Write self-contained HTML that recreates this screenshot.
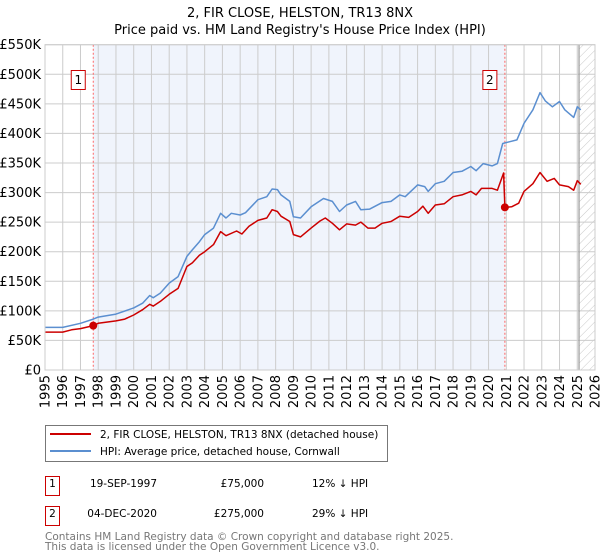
<!DOCTYPE html>
<html><head><meta charset="utf-8"><style>
body{margin:0;background:#fff;width:600px;height:560px;overflow:hidden;font-family:"DejaVu Sans","Liberation Sans",sans-serif}
svg{display:block}
</style></head><body>
<svg id="chart" width="600" height="560" viewBox="0 0 600 560" font-family="DejaVu Sans, Liberation Sans, sans-serif">
<defs>
<pattern id="hatch" patternUnits="userSpaceOnUse" width="6" height="6" patternTransform="rotate(45)">
<line x1="0" y1="0" x2="0" y2="6" stroke="#bbb" stroke-width="0.8"/>
</pattern>
</defs>
<text x="300" y="17" text-anchor="middle" font-size="13">2, FIR CLOSE, HELSTON, TR13 8NX</text>
<text x="300" y="34" text-anchor="middle" font-size="13">Price paid vs. HM Land Registry's House Price Index (HPI)</text>
<g id="plot"></g>
<g>
<rect x="45.5" y="425.5" width="342" height="36" fill="#fff" stroke="#777"/>
<line x1="50" y1="434" x2="91" y2="434" stroke="#cc0000" stroke-width="2"/>
<text x="100" y="438" font-size="10.5">2, FIR CLOSE, HELSTON, TR13 8NX (detached house)</text>
<line x1="50" y1="451" x2="91" y2="451" stroke="#5b8fd0" stroke-width="2"/>
<text x="100" y="455" font-size="10.5">HPI: Average price, detached house, Cornwall</text>
</g>
<g font-size="10.5">
<rect x="45.5" y="476.5" width="14" height="19" fill="#fff" stroke="#cc0000"/>
<text x="52.5" y="487" text-anchor="middle">1</text>
<text x="157" y="487" text-anchor="end">19-SEP-1997</text>
<text x="264" y="487" text-anchor="end">£75,000</text>
<text x="312" y="487">12% ↓ HPI</text>
<rect x="45.5" y="506.5" width="14" height="19" fill="#fff" stroke="#cc0000"/>
<text x="52.5" y="517" text-anchor="middle">2</text>
<text x="157" y="517" text-anchor="end">04-DEC-2020</text>
<text x="264" y="517" text-anchor="end">£275,000</text>
<text x="312" y="517">29% ↓ HPI</text>
</g>
<text x="45" y="540" font-size="10.5" fill="#777">Contains HM Land Registry data © Crown copyright and database right 2025.</text>
<text x="45" y="550" font-size="10.5" fill="#777">This data is licensed under the Open Government Licence v3.0.</text>
</svg>
<script>
const hpiYears=[1995,1996,1997,1997.72,1998,1999,2000,2000.5,2000.9,2001.1,2001.5,2002,2002.5,2003,2003.3,2003.7,2004,2004.5,2004.9,2005.2,2005.5,2006,2006.3,2007,2007.5,2007.8,2008.1,2008.3,2008.8,2009.0,2009.4,2010,2010.7,2011.2,2011.6,2012,2012.5,2012.8,2013.3,2014,2014.5,2015,2015.3,2016,2016.4,2016.6,2017,2017.5,2018,2018.5,2019,2019.3,2019.7,2020.2,2020.5,2020.8,2021.2,2021.6,2022,2022.5,2022.9,2023.2,2023.6,2024,2024.3,2024.8,2025.0,2025.2];
const hpiValues=[72,72,79,86,89.5,94.5,105,113,126,122,130,147,158,192,203,217,229,240,265,257,265,262,266,288,293,306,305,296,285,259,257,276,290,285,268,279,285,271,272,283,285,296,293,313,310,302,315,319,334,336,344,337,349,345,349,383,386,389,417,440,469,455,445,454,440,427,445,440];
const ppYears=[1995,1996,1996.5,1997,1997.72,1998,1999,1999.5,2000,2000.5,2000.9,2001.1,2001.5,2002,2002.5,2003,2003.3,2003.7,2004,2004.5,2004.9,2005.2,2005.8,2006.1,2006.5,2007,2007.5,2007.8,2008.1,2008.3,2008.8,2009.0,2009.4,2010,2010.5,2010.8,2011.2,2011.6,2012,2012.5,2012.8,2013.2,2013.6,2014,2014.5,2015,2015.5,2016,2016.3,2016.6,2017,2017.5,2018,2018.5,2019,2019.3,2019.6,2020.2,2020.5,2020.85,2020.92,2021.3,2021.7,2022,2022.5,2022.9,2023.3,2023.7,2024,2024.5,2024.8,2025.0,2025.2];
const ppValues=[64,64,68,70,75,79,83,86,93,102,111,108,116,128,138,175,181,194,200,212,234,227,235,230,243,253,257,271,268,260,251,229,225,240,252,257,248,237,247,245,250,240,240,248,251,260,258,268,277,265,279,281,293,296,302,296,307,307,304,333,275,276,282,302,315,334,319,324,313,310,304,320,314];
const saleYears=[1997.72,2020.92];
const saleValues=[75,275];
const saleLabels=["1","2"];
const yTicks=[0,50,100,150,200,250,300,350,400,450,500,550];
const xTickYears=[1995,1996,1997,1998,1999,2000,2001,2002,2003,2004,2005,2006,2007,2008,2009,2010,2011,2012,2013,2014,2015,2016,2017,2018,2019,2020,2021,2022,2023,2024,2025,2026];
const dataEndYear=2025.1;

const L=45,R=595,T=44.7,B=370;
const X=y=>L+(y-1995)/(2026-1995)*(R-L);
const Y=v=>B-v/550*(B-T);
const NS="http://www.w3.org/2000/svg";
const g=document.getElementById('plot');
function mk(tag,attrs,parent){const e=document.createElementNS(NS,tag);for(const k in attrs)e.setAttribute(k,attrs[k]);(parent||g).appendChild(e);return e;}

const bg=mk('rect',{x:L,y:T,width:R-L,height:B-T,fill:'#fff'});


const sh=mk('rect',{x:X(saleYears[0]),y:T,width:X(saleYears[1])-X(saleYears[0]),height:B-T,fill:'#f0f4fc'});


const ht=mk('rect',{x:X(dataEndYear),y:T,width:R-X(dataEndYear),height:B-T,fill:'url(#hatch)'});



yTicks.forEach(v=>{
  const ln=mk('line',{x1:L,x2:R,y1:Y(v),y2:Y(v),stroke:'#cccccc','stroke-width':1});
  
  
  const t=mk('text',{x:41,y:Y(v)+4.5,'text-anchor':'end','font-size':13});
  t.textContent=v===0?'£0':'£'+v+'K';
  
  
});
xTickYears.forEach(yr=>{
  const ln=mk('line',{x1:X(yr),x2:X(yr),y1:T,y2:B,stroke:'#cccccc','stroke-width':1});
  
  
  const t=mk('text',{x:0,y:0,'text-anchor':'end','font-size':13,transform:`translate(${X(yr)+4.5},${B+5}) rotate(-90)`});
  t.textContent=yr;
  
  
});
const el=mk('line',{x1:X(dataEndYear),x2:X(dataEndYear),y1:T,y2:B,stroke:'#999','stroke-width':1.2});



saleYears.forEach((yr,i)=>{
  const ln=mk('line',{x1:X(yr),x2:X(yr),y1:T,y2:B,stroke:'#ff6666','stroke-width':1,'stroke-dasharray':'2,2'});
  
  
});

const pts=(xs,vs)=>xs.map((x,i)=>X(x).toFixed(1)+','+Y(vs[i]).toFixed(1)).join(' ');
const hp=mk('polyline',{points:pts(hpiYears,hpiValues),fill:'none',stroke:'#5b8fd0','stroke-width':1.5,'stroke-linejoin':'round'});


const pp=mk('polyline',{points:pts(ppYears,ppValues),fill:'none',stroke:'#cc0000','stroke-width':1.5,'stroke-linejoin':'round'});



saleYears.forEach((yr,i)=>{
  const c=mk('circle',{cx:X(yr),cy:Y(saleValues[i]),r:4,fill:'#cc0000'});
  
  
  const bx=X(yr)-15;
  const r=mk('rect',{x:bx-7,y:70.5,width:14,height:19,fill:'#fff',stroke:'#cc0000'});
  
  
  const t=mk('text',{x:bx,y:84,'text-anchor':'middle','font-size':12});
  t.textContent=saleLabels[i];
  
  
});
const fr=mk('rect',{x:L,y:T,width:R-L,height:B-T,fill:'none',stroke:'#cccccc'});


</script>
</body></html>
